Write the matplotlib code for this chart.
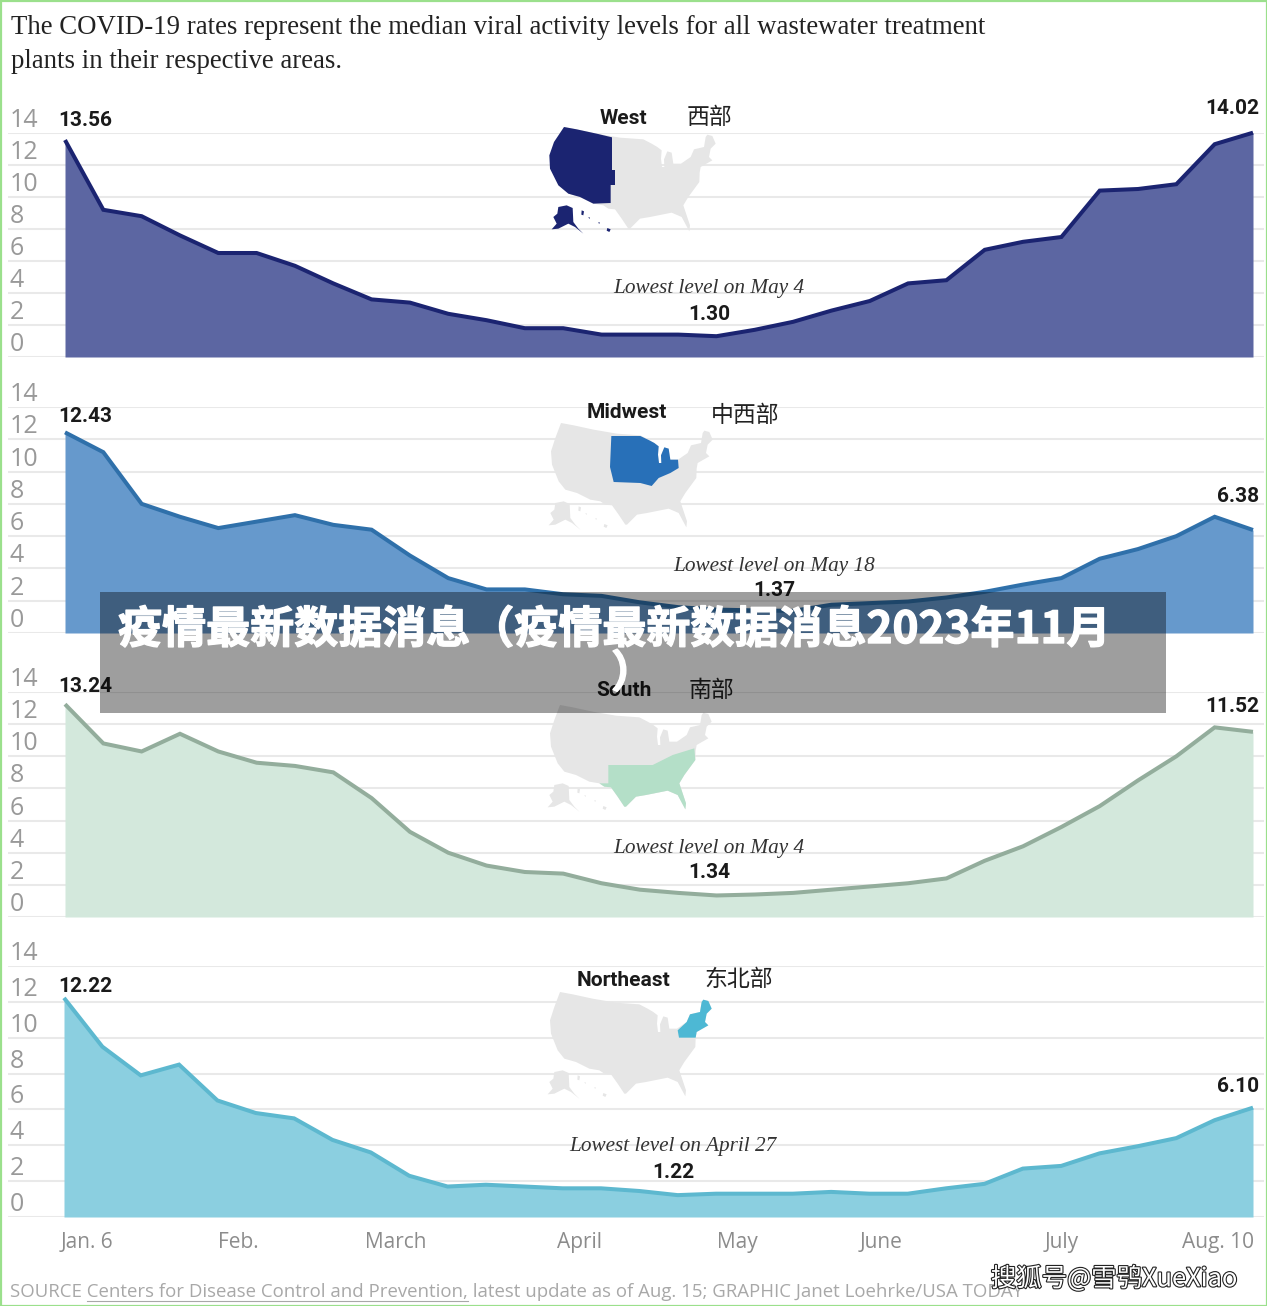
import matplotlib
matplotlib.use("Agg")
import matplotlib.pyplot as plt
import matplotlib.patheffects as pe
from matplotlib.patches import Polygon, Rectangle

W, H = 1267, 1306

# weekly values, Jan. 6 to Aug. 10
west = [13.56, 9.2, 8.8, 7.6, 6.5, 6.5, 5.7, 4.6, 3.6, 3.4, 2.7, 2.3, 1.8, 1.8, 1.4, 1.4,
        1.4, 1.30, 1.7, 2.2, 2.9, 3.5, 4.6, 4.8, 6.7, 7.2, 7.5, 10.4, 10.5, 10.8, 13.3, 14.02]
midwest = [12.43, 11.2, 8.0, 7.2, 6.5, 6.9, 7.3, 6.7, 6.4, 4.8, 3.4, 2.7, 2.7, 2.4, 2.3, 1.9,
           1.6, 1.45, 1.4, 1.37, 1.75, 1.85, 1.95, 2.2, 2.55, 3.0, 3.4, 4.6, 5.2, 6.0, 7.2, 6.38]
south = [13.24, 10.8, 10.3, 11.4, 10.3, 9.6, 9.4, 9.0, 7.4, 5.3, 4.0, 3.2, 2.8, 2.7, 2.1, 1.7,
         1.5, 1.34, 1.4, 1.5, 1.7, 1.9, 2.1, 2.4, 3.5, 4.4, 5.6, 6.9, 8.5, 10.0, 11.8, 11.52]
northeast = [12.22, 9.5, 7.9, 8.5, 6.5, 5.8, 5.5, 4.3, 3.6, 2.3, 1.7, 1.8, 1.7, 1.6, 1.6, 1.45,
             1.22, 1.3, 1.3, 1.3, 1.4, 1.3, 1.3, 1.6, 1.85, 2.7, 2.85, 3.55, 3.95, 4.4, 5.4, 6.10]

y_ticks = [0, 2, 4, 6, 8, 10, 12, 14]
month_labels = ["Jan. 6", "Feb.", "March", "April", "May", "June", "July", "Aug. 10"]
month_pos = [0.6, 4.55, 8.65, 13.45, 17.55, 21.3, 26.0, 30.1]

# map outlines, sketched from the picture
us_outline = [(92, 15), (130, 22), (190, 35), (260, 47), (330, 52), (355, 65), (372, 75), (385, 85),
              (383, 110), (386, 135), (393, 135), (392, 112), (402, 88), (415, 92), (420, 125),
              (443, 125), (472, 105), (482, 82), (512, 75), (517, 45), (522, 38), (537, 42),
              (547, 65), (532, 80), (527, 105), (537, 115), (502, 135), (499, 152), (498, 180),
              (465, 225), (450, 250), (470, 310), (468, 328), (445, 285), (415, 272), (375, 280),
              (350, 285), (320, 290), (290, 320), (285, 320), (265, 290), (245, 262), (225, 260),
              (210, 250), (180, 245), (140, 225), (105, 215), (85, 190), (65, 140), (62, 100), (75, 60)]
alaska = [(75, 255), (100, 250), (118, 258), (120, 300), (135, 320), (150, 335), (125, 315),
          (105, 305), (75, 320), (55, 322), (70, 305), (60, 285), (72, 275)]
hawaii = [[(145, 265), (152, 268), (150, 280), (144, 278)], [(165, 285), (170, 287), (168, 291)],
          [(195, 300), (200, 302), (197, 306)], [(222, 318), (232, 322), (228, 330), (220, 326)]]
west_shape = [(92, 15), (130, 22), (190, 35), (236, 46), (236, 144), (245, 144), (245, 189), (232, 189),
              (232, 243), (180, 245), (140, 225), (105, 215), (75, 190), (50, 140), (48, 100), (62, 60)]
midwest_shape = [(243, 54), (330, 54), (355, 66), (372, 75), (385, 85), (383, 110), (386, 135), (393, 135),
                 (392, 112), (402, 88), (415, 92), (420, 125), (443, 125), (445, 150), (420, 165),
                 (385, 180), (364, 204), (330, 195), (250, 192), (239, 147)]
south_shape = [(237, 195), (370, 195), (400, 180), (430, 165), (495, 145), (498, 180), (465, 225), (450, 250),
               (470, 310), (468, 328), (445, 285), (415, 272), (375, 280), (350, 285), (320, 290), (290, 320),
               (285, 320), (265, 290), (245, 262), (225, 260), (210, 250), (237, 250)]
northeast_shape = [(522, 38), (537, 42), (547, 65), (532, 80), (527, 105), (537, 115), (502, 135), (499, 152),
                   (449, 152), (445, 130), (472, 105), (482, 82), (512, 75), (517, 45)]

panels = [
    dict(name="West", cn="西部", vals=west, y14=133, y0=357, x0=65, line="#1b2471", fill="#5c66a2",
         shape=west_shape, off=(564, 127), alaska=True, low="Lowest level on May 4", low_xy=(709, 288), val_xy=(709, 314),
         first_y=120, last_y=109, name_xy=(623, 118), cn_xy=(710, 118)),
    dict(name="Midwest", cn="中西部", vals=midwest, y14=407, y0=633, x0=65, line="#2f70aa", fill="#6699cc",
         shape=midwest_shape, off=(561, 423), alaska=False, low="Lowest level on May 18", low_xy=(774, 566), val_xy=(774, 591),
         first_y=417, last_y=497, name_xy=(627, 413), cn_xy=(745, 416)),
    dict(name="South", cn="南部", vals=south, y14=692, y0=917, x0=65, line="#93ad9c", fill="#d3e8dc",
         shape=south_shape, off=(560, 705), alaska=False, low="Lowest level on May 4", low_xy=(709, 848), val_xy=(709, 872),
         first_y=687, last_y=707, name_xy=(624, 691), cn_xy=(711, 690)),
    dict(name="Northeast", cn="东北部", vals=northeast, y14=966, y0=1217, x0=64, line="#5db8cf", fill="#8bcfe0",
         shape=northeast_shape, off=(560, 992), alaska=False, low="Lowest level on April 27", low_xy=(673, 1146), val_xy=(673, 1172),
         first_y=987, last_y=1087, name_xy=(624, 980), cn_xy=(739, 979)),
]
shape_colors = {"West": "#1b2471", "Midwest": "#2870b8", "South": "#b4dfc8", "Northeast": "#4db8d4"}
BOLD = dict(family="Roboto", weight="bold", fontsize=15, color="#1a1a1a")

fig = plt.figure(figsize=(W / 100, H / 100), dpi=100, facecolor="white")

LEFT, RIGHT = 8, 1264
for p in panels:
    ax = fig.add_axes([LEFT / W, 1 - p["y0"] / H, (RIGHT - LEFT) / W, (p["y0"] - p["y14"]) / H])
    step = (1253 - p["x0"]) / 31
    ax.set_xlim((LEFT - p["x0"]) / step, (RIGHT - p["x0"]) / step)
    ax.set_ylim(0, 14)
    xs = list(range(len(p["vals"])))
    ax.fill_between(xs, 0, p["vals"], color=p["fill"], lw=0, zorder=2, clip_on=False)
    ax.plot(xs, p["vals"], color=p["line"], lw=2.9, zorder=3, clip_on=False, solid_joinstyle="miter",
            solid_capstyle="butt")
    ax.set_yticks(y_ticks)
    ax.set_yticklabels([])
    ax.grid(axis="y", color="#e9e9e9", lw=1.5, zorder=1)
    ax.tick_params(length=0)
    ax.set_facecolor("none")
    for s in ax.spines.values():
        s.set_visible(False)
    for v in y_ticks:
        ax.annotate(str(v), xy=(0, v), xycoords=ax.get_yaxis_transform(), xytext=(1, 9),
                    textcoords="offset points", ha="left", va="center", fontsize=18,
                    family="Open Sans", color="#999999", annotation_clip=False)
    if p["name"] == "Northeast":
        ax.set_xticks(month_pos)
        ax.set_xticklabels(month_labels, family="Open Sans", fontsize=15, color="#8c8c8c")
        ax.tick_params(axis="x", pad=11)
    else:
        ax.set_xticks([])

# everything that sits on top of the charts, in picture pixels
page = fig.add_axes([0, 0, 1, 1], zorder=5)
page.set_xlim(0, W)
page.set_ylim(H, 0)
page.axis("off")


def to_px(pts, off):
    return [(off[0] + (u - 92) / 3, off[1] + (v - 15) / 3) for u, v in pts]


for p in panels:
    off = p["off"]
    col = shape_colors[p["name"]]
    page.add_patch(Polygon(to_px(us_outline, off), fc="#e6e6e6", ec="none"))
    page.add_patch(Polygon(to_px(alaska, off), fc=col if p["alaska"] else "#e6e6e6", ec="none"))
    for isl in hawaii:
        page.add_patch(Polygon(to_px(isl, off), fc=col if p["alaska"] else "#e6e6e6", ec="none"))
    page.add_patch(Polygon(to_px(p["shape"], off), fc=col, ec="none"))

    page.text(*p["name_xy"], p["name"], ha="center", va="center", **BOLD)
    page.text(*p["cn_xy"], p["cn"], ha="center", va="center", family="Noto Sans CJK SC", fontsize=16.5,
              color="#222222")
    page.text(*p["low_xy"], p["low"], ha="center", va="center", family="Liberation Serif", style="italic",
              fontsize=15.3, color="#333333")
    page.text(*p["val_xy"], f"{min(p['vals']):.2f}", ha="center", va="center", **BOLD)
    page.text(58, p["first_y"], f"{p['vals'][0]:.2f}", ha="left", va="center", **BOLD)
    page.text(1259, p["last_y"], f"{p['vals'][-1]:.2f}", ha="right", va="center", **BOLD)

# heading
page.text(11, 27, "The COVID-19 rates represent the median viral activity levels for all wastewater treatment",
          ha="left", va="center", family="Liberation Serif", fontsize=19.3, color="#222222")
page.text(11, 61, "plants in their respective areas.", ha="left", va="center", family="Liberation Serif",
          fontsize=19.3, color="#222222")

# source line, with the link underlined
src_a = "SOURCE "
src_b = "Centers for Disease Control and Prevention,"
src_c = " latest update as of Aug. 15; GRAPHIC Janet Loehrke/USA TODAY"
page.text(10, 1292, src_a + src_b + src_c, ha="left", va="center", family="Open Sans",
          fontsize=13.4, color="#a8a8a8")
fig.canvas.draw()
rend = fig.canvas.get_renderer()


def text_w(s):
    tmp = page.text(0, 0, s.replace(" ", "\u00a0"), family="Open Sans", fontsize=13.4)
    w = tmp.get_window_extent(rend).width
    tmp.remove()
    return w


x_a = 10 + text_w(src_a)
page.plot([x_a, x_a + text_w(src_b)], [1301, 1301], color="#a8a8a8", lw=0.8)

# image banner and watermark
thick = [pe.withStroke(linewidth=1.0, foreground="white")]
page.add_patch(Rectangle((100, 592), 1066, 121, fc="black", alpha=0.38, ec="none", zorder=10))
page.text(614, 630, "疫情最新数据消息（疫情最新数据消息2023年11月", ha="center", va="center", color="white",
          family="Noto Sans CJK SC", weight="bold", fontsize=31.7, zorder=11, path_effects=thick)
page.text(633, 674, "）", ha="center", va="center", color="white",
          family="Noto Sans CJK SC", weight="bold", fontsize=31.7, zorder=11, path_effects=thick)
page.text(1114, 1279, "搜狐号@雪鸮XueXiao", ha="center", va="center", color="white",
          family=["Noto Sans CJK SC", "DejaVu Sans"], fontsize=18.3, zorder=11,
          path_effects=[pe.withStroke(linewidth=1.6, foreground="#222222")])

# thin green edge of the screenshot
page.add_patch(Rectangle((0.5, 0.5), W - 1, H - 1, fc="none", ec="#9be08c", lw=1.6, zorder=12))

fig.savefig("out.png", dpi=100, facecolor="white")
